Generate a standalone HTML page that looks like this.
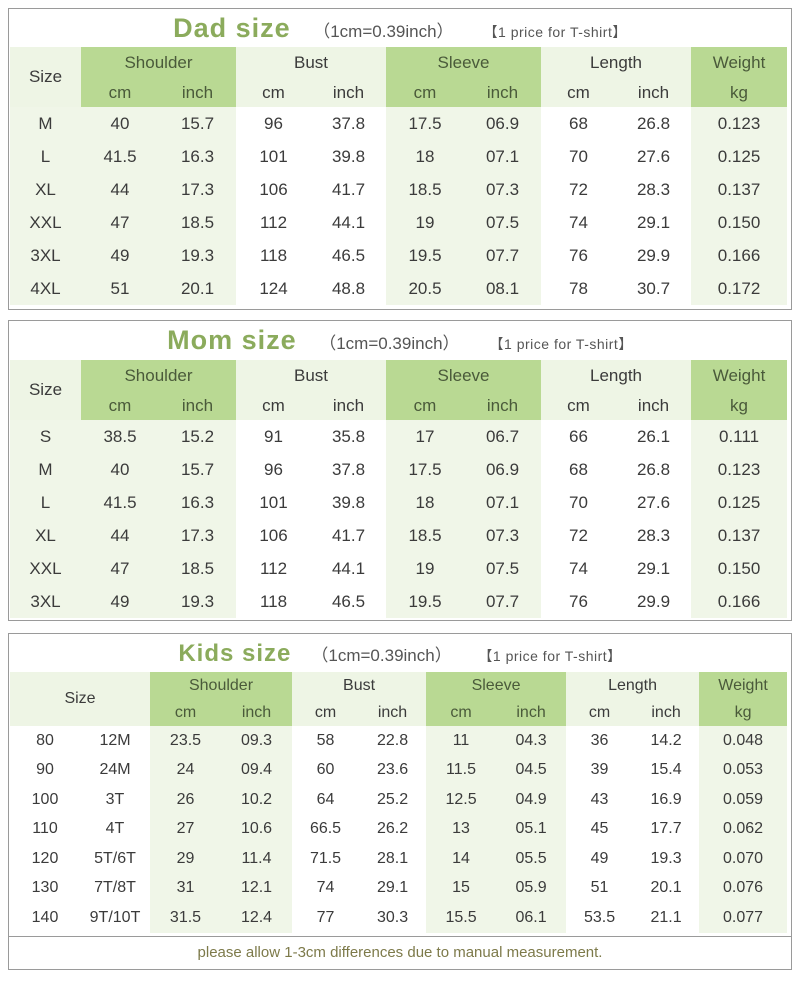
<!DOCTYPE html>
<html><head><meta charset="utf-8"><style>
body{margin:0;width:800px;height:981px;background:#fff;position:relative;font-family:"Liberation Sans",sans-serif;color:#3b3b3b;overflow:hidden}
.p{position:absolute;left:8px;width:782px;border:1px solid #9a9a9a;background:#fff}
.t{position:absolute;left:0;width:100%;text-align:center;color:#8bab5c;font-weight:bold;white-space:nowrap}
.t b{letter-spacing:1px}
.t small{font-weight:normal;color:#555;font-size:17px;letter-spacing:0}
.t i{font-style:normal;font-weight:normal;color:#555;font-size:14px;letter-spacing:0.5px}
table{position:absolute;left:1px;border-collapse:collapse;table-layout:fixed;width:777px}
td{text-align:center;padding:0;font-size:17px;white-space:nowrap}
.g{background:#b9d993;color:#4a5a3a}
.w{background:#eef5e5}
.a{background:#f0f6e8}
.k td{font-size:16px}
</style></head><body>

<div class="p" style="top:8px;height:300px">
<div class="t" style="top:4px;font-size:27px"><b>Dad size</b> &nbsp; <small>（1cm=0.39inch）</small> &nbsp;&nbsp; <i>【1 price for T-shirt】</i></div>
<table style="top:38px">
<colgroup><col style="width:71px"><col style="width:78px"><col style="width:77px"><col style="width:75px"><col style="width:75px"><col style="width:78px"><col style="width:77px"><col style="width:75px"><col style="width:75px"><col style="width:96px"></colgroup>
<tr style="height:31px"><td class="w" rowspan="2">Size</td><td class="g" colspan="2">Shoulder</td><td class="w" colspan="2">Bust</td><td class="g" colspan="2">Sleeve</td><td class="w" colspan="2">Length</td><td class="g">Weight</td></tr>
<tr style="height:29px"><td class="g">cm</td><td class="g">inch</td><td class="w">cm</td><td class="w">inch</td><td class="g">cm</td><td class="g">inch</td><td class="w">cm</td><td class="w">inch</td><td class="g">kg</td></tr>
<tr style="height:33px"><td class="a">M</td><td class="a">40</td><td class="a">15.7</td><td>96</td><td>37.8</td><td class="a">17.5</td><td class="a">06.9</td><td>68</td><td>26.8</td><td class="a">0.123</td></tr>
<tr style="height:33px"><td class="a">L</td><td class="a">41.5</td><td class="a">16.3</td><td>101</td><td>39.8</td><td class="a">18</td><td class="a">07.1</td><td>70</td><td>27.6</td><td class="a">0.125</td></tr>
<tr style="height:33px"><td class="a">XL</td><td class="a">44</td><td class="a">17.3</td><td>106</td><td>41.7</td><td class="a">18.5</td><td class="a">07.3</td><td>72</td><td>28.3</td><td class="a">0.137</td></tr>
<tr style="height:33px"><td class="a">XXL</td><td class="a">47</td><td class="a">18.5</td><td>112</td><td>44.1</td><td class="a">19</td><td class="a">07.5</td><td>74</td><td>29.1</td><td class="a">0.150</td></tr>
<tr style="height:33px"><td class="a">3XL</td><td class="a">49</td><td class="a">19.3</td><td>118</td><td>46.5</td><td class="a">19.5</td><td class="a">07.7</td><td>76</td><td>29.9</td><td class="a">0.166</td></tr>
<tr style="height:33px"><td class="a">4XL</td><td class="a">51</td><td class="a">20.1</td><td>124</td><td>48.8</td><td class="a">20.5</td><td class="a">08.1</td><td>78</td><td>30.7</td><td class="a">0.172</td></tr>
</table></div>

<div class="p" style="top:320px;height:299px">
<div class="t" style="top:4px;font-size:27px"><b>Mom size</b> &nbsp; <small>（1cm=0.39inch）</small> &nbsp;&nbsp; <i>【1 price for T-shirt】</i></div>
<table style="top:39px">
<colgroup><col style="width:71px"><col style="width:78px"><col style="width:77px"><col style="width:75px"><col style="width:75px"><col style="width:78px"><col style="width:77px"><col style="width:75px"><col style="width:75px"><col style="width:96px"></colgroup>
<tr style="height:31px"><td class="w" rowspan="2">Size</td><td class="g" colspan="2">Shoulder</td><td class="w" colspan="2">Bust</td><td class="g" colspan="2">Sleeve</td><td class="w" colspan="2">Length</td><td class="g">Weight</td></tr>
<tr style="height:29px"><td class="g">cm</td><td class="g">inch</td><td class="w">cm</td><td class="w">inch</td><td class="g">cm</td><td class="g">inch</td><td class="w">cm</td><td class="w">inch</td><td class="g">kg</td></tr>
<tr style="height:33px"><td class="a">S</td><td class="a">38.5</td><td class="a">15.2</td><td>91</td><td>35.8</td><td class="a">17</td><td class="a">06.7</td><td>66</td><td>26.1</td><td class="a">0.111</td></tr>
<tr style="height:33px"><td class="a">M</td><td class="a">40</td><td class="a">15.7</td><td>96</td><td>37.8</td><td class="a">17.5</td><td class="a">06.9</td><td>68</td><td>26.8</td><td class="a">0.123</td></tr>
<tr style="height:33px"><td class="a">L</td><td class="a">41.5</td><td class="a">16.3</td><td>101</td><td>39.8</td><td class="a">18</td><td class="a">07.1</td><td>70</td><td>27.6</td><td class="a">0.125</td></tr>
<tr style="height:33px"><td class="a">XL</td><td class="a">44</td><td class="a">17.3</td><td>106</td><td>41.7</td><td class="a">18.5</td><td class="a">07.3</td><td>72</td><td>28.3</td><td class="a">0.137</td></tr>
<tr style="height:33px"><td class="a">XXL</td><td class="a">47</td><td class="a">18.5</td><td>112</td><td>44.1</td><td class="a">19</td><td class="a">07.5</td><td>74</td><td>29.1</td><td class="a">0.150</td></tr>
<tr style="height:33px"><td class="a">3XL</td><td class="a">49</td><td class="a">19.3</td><td>118</td><td>46.5</td><td class="a">19.5</td><td class="a">07.7</td><td>76</td><td>29.9</td><td class="a">0.166</td></tr>
</table></div>

<div class="p k" style="top:633px;height:335px">
<div class="t" style="top:6px;font-size:24px"><b>Kids size</b> &nbsp; <small>（1cm=0.39inch）</small> &nbsp;&nbsp; <i>【1 price for T-shirt】</i></div>
<table style="top:38px" class="k">
<colgroup><col style="width:70px"><col style="width:70px"><col style="width:71px"><col style="width:71px"><col style="width:67px"><col style="width:67px"><col style="width:70px"><col style="width:70px"><col style="width:67px"><col style="width:66px"><col style="width:88px"></colgroup>
<tr style="height:28px"><td class="w" rowspan="2" colspan="2">Size</td><td class="g" colspan="2">Shoulder</td><td class="w" colspan="2">Bust</td><td class="g" colspan="2">Sleeve</td><td class="w" colspan="2">Length</td><td class="g">Weight</td></tr>
<tr style="height:26px"><td class="g">cm</td><td class="g">inch</td><td class="w">cm</td><td class="w">inch</td><td class="g">cm</td><td class="g">inch</td><td class="w">cm</td><td class="w">inch</td><td class="g">kg</td></tr>
<tr style="height:29.5px"><td>80</td><td>12M</td><td class="a">23.5</td><td class="a">09.3</td><td>58</td><td>22.8</td><td class="a">11</td><td class="a">04.3</td><td>36</td><td>14.2</td><td class="a">0.048</td></tr>
<tr style="height:29.5px"><td>90</td><td>24M</td><td class="a">24</td><td class="a">09.4</td><td>60</td><td>23.6</td><td class="a">11.5</td><td class="a">04.5</td><td>39</td><td>15.4</td><td class="a">0.053</td></tr>
<tr style="height:29.5px"><td>100</td><td>3T</td><td class="a">26</td><td class="a">10.2</td><td>64</td><td>25.2</td><td class="a">12.5</td><td class="a">04.9</td><td>43</td><td>16.9</td><td class="a">0.059</td></tr>
<tr style="height:29.5px"><td>110</td><td>4T</td><td class="a">27</td><td class="a">10.6</td><td>66.5</td><td>26.2</td><td class="a">13</td><td class="a">05.1</td><td>45</td><td>17.7</td><td class="a">0.062</td></tr>
<tr style="height:29.5px"><td>120</td><td>5T/6T</td><td class="a">29</td><td class="a">11.4</td><td>71.5</td><td>28.1</td><td class="a">14</td><td class="a">05.5</td><td>49</td><td>19.3</td><td class="a">0.070</td></tr>
<tr style="height:29.5px"><td>130</td><td>7T/8T</td><td class="a">31</td><td class="a">12.1</td><td>74</td><td>29.1</td><td class="a">15</td><td class="a">05.9</td><td>51</td><td>20.1</td><td class="a">0.076</td></tr>
<tr style="height:29.5px"><td>140</td><td>9T/10T</td><td class="a">31.5</td><td class="a">12.4</td><td>77</td><td>30.3</td><td class="a">15.5</td><td class="a">06.1</td><td>53.5</td><td>21.1</td><td class="a">0.077</td></tr>
</table>
<div style="position:absolute;left:0;top:302px;width:100%;border-top:1px solid #9a9a9a;height:32px;line-height:32px;text-align:center;font-size:15px;color:#7d7a4a">please allow 1-3cm differences due to manual measurement.</div>
</div>
</body></html>
